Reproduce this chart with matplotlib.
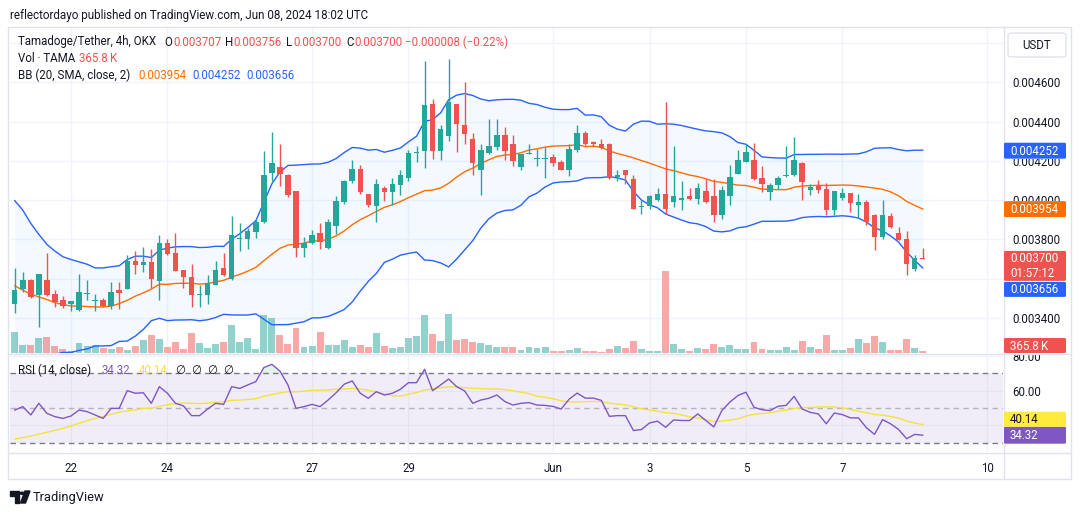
import numpy as np
import pandas as pd
import matplotlib
matplotlib.use("Agg")
import matplotlib.pyplot as plt
from matplotlib.patches import FancyBboxPatch, Rectangle, Polygon, Circle
from matplotlib.lines import Line2D
from matplotlib import transforms

# 4h candles, May 20 20:00 -> Jun 8 16:00 UTC (TAMA/USDT, OKX)
opens = [0.003472, 0.003546, 0.003592, 0.003515, 0.003592, 0.003520, 0.003490, 0.003469, 0.003438, 0.003519,
         0.003487, 0.003489, 0.003459, 0.003540, 0.003547, 0.003688, 0.003668, 0.003683, 0.003588, 0.003780,
         0.003729, 0.003643, 0.003610, 0.003517, 0.003518, 0.003569, 0.003655, 0.003597, 0.003800, 0.003800,
         0.003839, 0.003886, 0.004139, 0.004169, 0.004130, 0.004045, 0.003757, 0.003780, 0.003834, 0.003757,
         0.003870, 0.003988, 0.004096, 0.004161, 0.004031, 0.003968, 0.004062, 0.004039, 0.004079, 0.004113,
         0.004240, 0.004250, 0.004489, 0.004250, 0.004327, 0.004489, 0.004381, 0.004310, 0.004156, 0.004238,
         0.004270, 0.004330, 0.004284, 0.004168, 0.004237, 0.004210, 0.004210, 0.004221, 0.004193, 0.004156,
         0.004258, 0.004340, 0.004298, 0.004284, 0.004284, 0.004116, 0.004151, 0.004110, 0.003966, 0.003968,
         0.003998, 0.004031, 0.003988, 0.003998, 0.004022, 0.004007, 0.004045, 0.004022, 0.003925, 0.004019,
         0.004135, 0.004195, 0.004203, 0.004111, 0.004041, 0.004075, 0.004121, 0.004126, 0.004191, 0.004050,
         0.004070, 0.004055, 0.003949, 0.004009, 0.004034, 0.003973, 0.003988, 0.003926, 0.003810, 0.003921,
         0.003832, 0.003803, 0.003651, 0.003707]
highs = [0.003654, 0.003632, 0.003595, 0.003624, 0.003728, 0.003540, 0.003512, 0.003486, 0.003622, 0.003592,
         0.003520, 0.003500, 0.003581, 0.003581, 0.003719, 0.003740, 0.003760, 0.003750, 0.003821, 0.003801,
         0.003831, 0.003645, 0.003673, 0.003566, 0.003617, 0.003689, 0.003728, 0.003920, 0.003882, 0.003857,
         0.003903, 0.004250, 0.004349, 0.004284, 0.004132, 0.004047, 0.003810, 0.003845, 0.003882, 0.003903,
         0.004022, 0.004100, 0.004202, 0.004181, 0.004033, 0.004110, 0.004074, 0.004113, 0.004151, 0.004253,
         0.004275, 0.004712, 0.004518, 0.004381, 0.004720, 0.004491, 0.004600, 0.004340, 0.004287, 0.004412,
         0.004412, 0.004373, 0.004330, 0.004235, 0.004284, 0.004262, 0.004270, 0.004233, 0.004202, 0.004287,
         0.004381, 0.004352, 0.004300, 0.004310, 0.004289, 0.004151, 0.004153, 0.004130, 0.004002, 0.004024,
         0.004062, 0.004498, 0.004274, 0.004099, 0.004062, 0.004087, 0.004110, 0.004110, 0.004074, 0.004181,
         0.004258, 0.004287, 0.004290, 0.004174, 0.004085, 0.004123, 0.004277, 0.004323, 0.004193, 0.004080,
         0.004101, 0.004089, 0.004046, 0.004063, 0.004036, 0.004029, 0.004003, 0.003928, 0.004003, 0.003932,
         0.003862, 0.003844, 0.003721, 0.003756]
lows = [0.003425, 0.003532, 0.003503, 0.003353, 0.003510, 0.003455, 0.003450, 0.003435, 0.003436, 0.003489,
        0.003435, 0.003455, 0.003447, 0.003447, 0.003545, 0.003622, 0.003634, 0.003552, 0.003491, 0.003719,
        0.003637, 0.003552, 0.003455, 0.003455, 0.003472, 0.003566, 0.003615, 0.003591, 0.003742, 0.003750,
        0.003805, 0.003884, 0.004096, 0.004074, 0.004014, 0.003711, 0.003711, 0.003775, 0.003749, 0.003750,
        0.003827, 0.003981, 0.004087, 0.004031, 0.003963, 0.003886, 0.003993, 0.003973, 0.004024, 0.004099,
        0.004193, 0.004164, 0.004212, 0.004202, 0.004301, 0.004245, 0.004284, 0.004130, 0.004024, 0.004233,
        0.004253, 0.004202, 0.004173, 0.004152, 0.004233, 0.004173, 0.004113, 0.004173, 0.004152, 0.004122,
        0.004245, 0.004282, 0.004275, 0.004262, 0.004110, 0.004099, 0.004084, 0.003954, 0.003930, 0.003954,
        0.003996, 0.003930, 0.003963, 0.003951, 0.004002, 0.003981, 0.003986, 0.003886, 0.003903, 0.003973,
        0.004133, 0.004193, 0.004104, 0.004041, 0.004003, 0.004058, 0.004120, 0.004123, 0.004003, 0.004026,
        0.004034, 0.003923, 0.003923, 0.004003, 0.003938, 0.003909, 0.003872, 0.003744, 0.003803, 0.003858,
        0.003795, 0.003616, 0.003636, 0.003700]
closes = [0.003540, 0.003592, 0.003506, 0.003622, 0.003515, 0.003479, 0.003460, 0.003484, 0.003530, 0.003521,
          0.003489, 0.003460, 0.003530, 0.003527, 0.003690, 0.003668, 0.003683, 0.003598, 0.003780, 0.003726,
          0.003639, 0.003608, 0.003517, 0.003521, 0.003579, 0.003643, 0.003617, 0.003822, 0.003803, 0.003843,
          0.003887, 0.004130, 0.004190, 0.004135, 0.004028, 0.003757, 0.003783, 0.003822, 0.003788, 0.003887,
          0.003993, 0.004099, 0.004161, 0.004039, 0.003976, 0.004082, 0.004039, 0.004082, 0.004130, 0.004241,
          0.004242, 0.004484, 0.004250, 0.004361, 0.004498, 0.004390, 0.004335, 0.004187, 0.004253, 0.004274,
          0.004330, 0.004250, 0.004200, 0.004233, 0.004240, 0.004212, 0.004212, 0.004190, 0.004156, 0.004263,
          0.004340, 0.004284, 0.004284, 0.004267, 0.004113, 0.004130, 0.004127, 0.003956, 0.003968, 0.004022,
          0.004031, 0.003956, 0.004022, 0.004010, 0.004007, 0.004062, 0.003988, 0.003925, 0.004053, 0.004120,
          0.004202, 0.004245, 0.004106, 0.004080, 0.004075, 0.004114, 0.004123, 0.004203, 0.004092, 0.004067,
          0.004050, 0.003949, 0.004044, 0.004034, 0.003983, 0.003988, 0.003887, 0.003810, 0.003926, 0.003863,
          0.003798, 0.003674, 0.003707, 0.003700]
volume_k = [3900, 1460, 1460, 2750, 2930, 1340, 730, 420, 1830, 1230,
            1460, 915, 730, 1100, 550, 1280, 2380, 3290, 2560, 1100,
            2010, 730, 3660, 1830, 915, 1650, 2010, 5120, 2010, 2750,
            730, 6950, 6400, 3290, 1650, 4580, 1100, 1280, 3840, 1460,
            1460, 2380, 1100, 1460, 1100, 3660, 1280, 915, 1100, 2750,
            3110, 6950, 3480, 2200, 7140, 2380, 2560, 2010, 1830, 1460,
            1100, 1100, 1100, 550, 1100, 915, 1100, 366, 366, 550,
            915, 366, 366, 183, 730, 1280, 915, 2200, 730, 366,
            366, 15010, 1650, 730, 366, 915, 730, 1650, 1100, 1460,
            730, 730, 2010, 730, 550, 550, 1100, 550, 2200, 1100,
            730, 3290, 550, 550, 915, 2560, 1830, 3110, 2010, 550,
            550, 2560, 915, 365.8]

# Bollinger values of the first 19 bars (their 20-bar window starts off screen)
bb_head_upper = [0.003997, 0.003949, 0.003881, 0.003825, 0.003774, 0.003740, 0.003711, 0.003697, 0.003685, 0.003673,
                 0.003654, 0.003654, 0.003660, 0.003665, 0.003697, 0.003714, 0.003714, 0.003707, 0.003745]
bb_head_mid = [0.003563, 0.003540, 0.003520, 0.003506, 0.003493, 0.003477, 0.003467, 0.003460, 0.003459, 0.003457,
               0.003455, 0.003455, 0.003459, 0.003472, 0.003489, 0.003510, 0.003527, 0.003546, 0.003571]
# last values shown in the legend: basis, upper, lower
bb_last = [0.003954, 0.004252, 0.003656]

rsi = [48.8, 50.8, 46.0, 52.7, 46.9, 45.0, 44.0, 45.4, 48.8, 47.9,
       46.0, 44.0, 49.8, 49.8, 60.0, 58.5, 58.8, 52.7, 62.3, 58.5,
       52.7, 51.2, 45.6, 45.6, 49.4, 52.7, 52.1, 62.3, 61.3, 63.3,
       65.2, 73.3, 75.2, 71.3, 63.3, 49.8, 50.8, 52.1, 50.8, 54.6,
       58.8, 63.7, 65.6, 58.5, 55.6, 59.4, 57.5, 58.5, 60.8, 64.6,
       64.6, 72.3, 60.0, 63.3, 66.7, 62.3, 59.8, 52.7, 54.6, 55.6,
       57.5, 53.7, 51.7, 52.7, 53.1, 51.7, 51.5, 50.9, 49.4, 55.1,
       58.6, 55.7, 55.7, 54.4, 45.2, 45.6, 45.6, 37.0, 37.6, 41.4,
       42.4, 38.9, 43.1, 42.8, 42.8, 46.6, 42.8, 39.1, 48.5, 53.4,
       57.2, 59.1, 50.4, 49.0, 48.5, 51.0, 51.5, 56.7, 49.4, 47.5,
       46.6, 40.9, 47.1, 46.2, 44.3, 44.3, 38.6, 34.8, 43.3, 40.9,
       37.6, 32.3, 34.8, 34.32]
# RSI-based MA of the first 13 bars (window starts off screen)
rsi_ma_head = [32.1, 32.9, 33.8, 35.0, 36.0, 37.1, 38.3, 39.6, 41.2, 42.7, 44.0, 45.0, 46.5]
rsi_ma_last = 40.14

day_ticks = [7, 19, 37, 49, 67, 79, 91, 103, 121]
day_labels = ["22", "24", "27", "29", "Jun", "3", "5", "7", "10"]
price_grid = [0.0034, 0.0036, 0.0038, 0.0040, 0.0042, 0.0044, 0.0046, 0.0048]
price_labels = [0.0034, 0.0038, 0.0040, 0.0042, 0.0044, 0.0046]
rsi_grid = [40, 60, 80]

UP, DOWN = "#26a69a", "#ef5350"
DARK = "#131722"
GRID = "#f0f3fa"
BORDER = "#e0e3eb"
FONT = "Roboto"

W, H = 1080, 515
plt.rcParams["font.family"] = [FONT, "DejaVu Sans"]
fig = plt.figure(figsize=(W / 100, H / 100), dpi=100)
fig.patch.set_facecolor("white")


def box(l, t, r, b):
    return [l / W, 1 - b / H, (r - l) / W, (b - t) / H]


def fx(x):
    return x / W


def fy(y):
    return 1 - y / H


def band(top, bottom):
    # display-space clip box between two image rows
    return transforms.Bbox.from_extents(0, H - bottom, W, H - top)


x = np.arange(len(closes))
o = np.array(opens)
c = np.array(closes)
hi = np.array(highs)
lo = np.array(lows)
up = c >= o
col = np.where(up, UP, DOWN)

# indicators
cs = pd.Series(closes)
mid = cs.rolling(20).mean()
sd = cs.rolling(20).std(ddof=0)
upper = mid + 2 * sd
n = len(bb_head_mid)
mid[:n] = bb_head_mid
upper[:n] = bb_head_upper
lower = 2 * mid - upper
rs = pd.Series(rsi)
rsi_ma = rs.rolling(14).mean()
rsi_ma[:len(rsi_ma_head)] = rsi_ma_head

xlim = (-0.59, 122.99)

# volume (bottom layer) + price pane
axv = fig.add_axes(box(10, 27, 1003, 353))
ax = fig.add_axes(box(10, 27, 1003, 353), sharex=axv)
ax.patch.set_visible(False)
ax2 = fig.add_axes(box(10, 355, 1003, 452), sharex=axv)

ax.set_xlim(*xlim)
ax.set_ylim(0.00322, 0.004883)
axv.set_ylim(0, max(volume_k) * 326 / 82)
ax2.set_ylim(24.64, 80.55)

for a in (ax, axv, ax2):
    for s in a.spines.values():
        s.set_visible(False)
    a.tick_params(length=0)

# grid
blend = transforms.blended_transform_factory(axv.transAxes, ax.transData)
axv.hlines(price_grid, 0, 1, transform=blend, color=GRID, lw=1, zorder=0)
for t in day_ticks:
    axv.axvline(t, color=GRID, lw=1, zorder=0)
    ax2.axvline(t, color=GRID, lw=1, zorder=0)
for t in rsi_grid:
    ax2.axhline(t, color=GRID, lw=1, zorder=0)

axv.bar(x, volume_k, width=0.86, color=np.where(up, "#92d2cc", "#f7a9a7"), zorder=2)
axv.set_yticks([])
axv.tick_params(labelbottom=False)

# bollinger bands
ax.fill_between(x, lower, upper, color="#2196f3", alpha=0.05, lw=0, zorder=1)
ax.plot(x, upper, color="#2962ff", lw=1, zorder=2)
ax.plot(x, lower, color="#2962ff", lw=1, zorder=2)
ax.plot(x, mid, color="#ff6d00", lw=1, zorder=2)

# candles
ax.vlines(x, lo, hi, colors=col, lw=1, zorder=3)
body = np.maximum(np.abs(c - o), 0.000005)
ax.bar(x, body, bottom=np.minimum(o, c), width=0.68, color=col, zorder=4)

ax.yaxis.tick_right()
ax.set_yticks(price_labels)
ax.set_yticklabels([f"{p:.6f}" for p in price_labels])
ax.tick_params(axis="y", pad=6.5, labelsize=8.3, labelcolor=DARK)
ax.tick_params(axis="x", labelbottom=False)

# RSI pane
ax2.fill_between([xlim[0], xlim[1]], 30, 70, color="#7e57c2", alpha=0.1, lw=0, zorder=0)
ax2.axhline(70, color="#787b86", lw=1, ls=(0, (4, 3)), zorder=1)
ax2.axhline(30, color="#787b86", lw=1, ls=(0, (4, 3)), zorder=1)
ax2.axhline(50, color="#787b86", lw=1, ls=(0, (4, 3)), alpha=0.5, zorder=1)
ra = np.array(rsi)
ax2.fill_between(x, 70, ra, where=ra > 70, interpolate=True, color="#4caf50", alpha=0.15, lw=0, zorder=1)
ax2.plot(x, rsi_ma, color="#f5e23a", lw=1, zorder=2)
ax2.plot(x, rsi, color="#7e57c2", lw=1, zorder=3)
ax2.yaxis.tick_right()
ax2.set_yticks([60, 80])
ax2.set_yticklabels(["60.00", "80.00"])
ax2.tick_params(axis="y", pad=6.5, labelsize=8.3, labelcolor=DARK)
for lbl in ax2.get_yticklabels():
    lbl.set_clip_on(True)
    lbl.set_clip_box(band(355, 452))
ax2.set_xticks(day_ticks)
ax2.set_xticklabels(day_labels)
ax2.tick_params(axis="x", pad=7, labelsize=8.3, labelcolor=DARK)
ax2.set_xlim(*xlim)

# frame and separators
fig.add_artist(Rectangle((fx(8), fy(479)), fx(1071 - 8), (479 - 27) / H, transform=fig.transFigure,
                         fill=False, edgecolor=BORDER, lw=1, zorder=5))
fig.add_artist(Line2D([fx(8), fx(1071)], [fy(354), fy(354)], color=BORDER, lw=1, zorder=5))
fig.add_artist(Line2D([fx(8), fx(1071)], [fy(452.5), fy(452.5)], color=BORDER, lw=1, zorder=5))
fig.add_artist(Line2D([fx(1003.5), fx(1003.5)], [fy(27), fy(479)], color=BORDER, lw=1, zorder=5))

# USDT box
fig.add_artist(FancyBboxPatch((fx(1008), fy(57)), fx(58), 24 / H, transform=fig.transFigure,
                              boxstyle="round,pad=0,rounding_size=0.004", facecolor="white",
                              edgecolor=BORDER, lw=1, zorder=6))
fig.text(fx(1037), fy(45.5), "USDT", ha="center", va="center", fontsize=8.3, color=DARK, zorder=7)


# price-scale tags
def ypix(a, v):
    return H - a.transData.transform((0, v))[1]


def tag(top, bottom, lines, face, fg="white"):
    fig.add_artist(FancyBboxPatch((fx(1004), fy(bottom)), fx(62), (bottom - top) / H,
                                  transform=fig.transFigure, boxstyle="round,pad=0,rounding_size=0.002",
                                  facecolor=face, edgecolor="none", zorder=6))
    step = (bottom - top) / len(lines)
    for k, s in enumerate(lines):
        fig.text(fx(1010), fy(top + step * (k + 0.5) + 0.5), s, ha="left", va="center",
                 fontsize=8.3, color=fg, zorder=7)


# axis labels partly hidden behind the tags: draw only the visible strip
ym = ypix(ax, bb_last[0])
yb = ypix(ax, bb_last[1])
for lbl, p in zip(ax.get_yticklabels(), price_labels):
    if p == 0.0040:
        lbl.set_clip_on(True)
        lbl.set_clip_box(band(0, ym - 8))
    if p == 0.0042:
        lbl.set_clip_on(True)
        lbl.set_clip_box(band(yb + 8, H))

last = closes[-1]
tag(yb - 8, yb + 8, [f"{bb_last[1]:.6f}"], "#2962ff")
tag(ym - 8, ym + 8, [f"{bb_last[0]:.6f}"], "#ff6d00")
yc = ypix(ax, last)
tag(yc - 8, yc + 22, [f"{last:.6f}", "01:57:12"], DOWN)
yl = max(ypix(ax, bb_last[2]), yc + 22 + 1 + 8)
tag(yl - 8, yl + 7, [f"{bb_last[2]:.6f}"], "#2962ff")
tag(338, 353, ["365.8\u2009K"], DOWN)
yr = ypix(ax2, rsi[-1])
tag(yr - 8.5, yr + 8.5, [f"{rsi[-1]:.2f}"], "#7e57c2")
ymr = min(ypix(ax2, rsi_ma_last), yr - 8.5 - 7.5)
tag(ymr - 7.5, ymr + 7.5, [f"{rsi_ma_last:.2f}"], "#ffeb3b", fg=DARK)

# legends
fig.text(fx(10), fy(15), "reflectordayo published on TradingView.com, Jun 08, 2024 18:02 UTC",
         fontsize=8.4, color=DARK, va="center", ha="left")


def row(y, parts, size=8.3):
    for px, s, color in parts:
        fig.text(fx(px), fy(y), s, fontsize=size, color=color, va="center", ha="left", zorder=8)


row(42, [(18, "Tamadoge/Tether, 4h, OKX", DARK), (164, "O", DARK), (173, "0.003707", DOWN),
         (225, "H", DARK), (233.5, "0.003756", DOWN), (286, "L", DARK), (293.5, "0.003700", DOWN),
         (346.5, "C", DARK), (354.5, "0.003700", DOWN), (405, "\u22120.000008 (\u22120.22%)", DOWN)])
row(58.7, [(18, "Vol \u00b7 TAMA", DARK), (79, "365.8\u2009K", DOWN)])
row(75.3, [(18, "BB (20, SMA, close, 2)", DARK), (138, f"{bb_last[0]:.6f}", "#ff6d00"),
           (192, f"{bb_last[1]:.6f}", "#2962ff"), (246, f"{bb_last[2]:.6f}", "#2962ff")])
row(370, [(18, "RSI (14, close)", DARK), (101, f"{rsi[-1]:.2f}", "#7e57c2"),
          (139, f"{rsi_ma_last:.2f}", "#f5e23a"),
          (175, "\u2205", DARK), (191, "\u2205", DARK), (207, "\u2205", DARK), (223, "\u2205", DARK)])


# TradingView logo
def P(pts):
    return [(fx(a), fy(b)) for a, b in pts]


fig.add_artist(Polygon(P([(10, 491), (19, 491), (19, 503), (14.5, 503), (14.5, 495.5), (10, 495.5)]),
                       closed=True, transform=fig.transFigure, color=DARK, zorder=8))
fig.add_artist(Circle((fx(22.3), fy(493.3)), 2.3 / W, transform=fig.transFigure, color=DARK, zorder=8))
fig.add_artist(Polygon(P([(25, 491), (30, 491), (25.5, 503), (20.5, 503)]),
                       closed=True, transform=fig.transFigure, color=DARK, zorder=8))
fig.text(fx(33), fy(497.5), "TradingView", fontsize=9.3, color=DARK, va="center", ha="left")

fig.savefig("out.png", dpi=100, facecolor="white")
